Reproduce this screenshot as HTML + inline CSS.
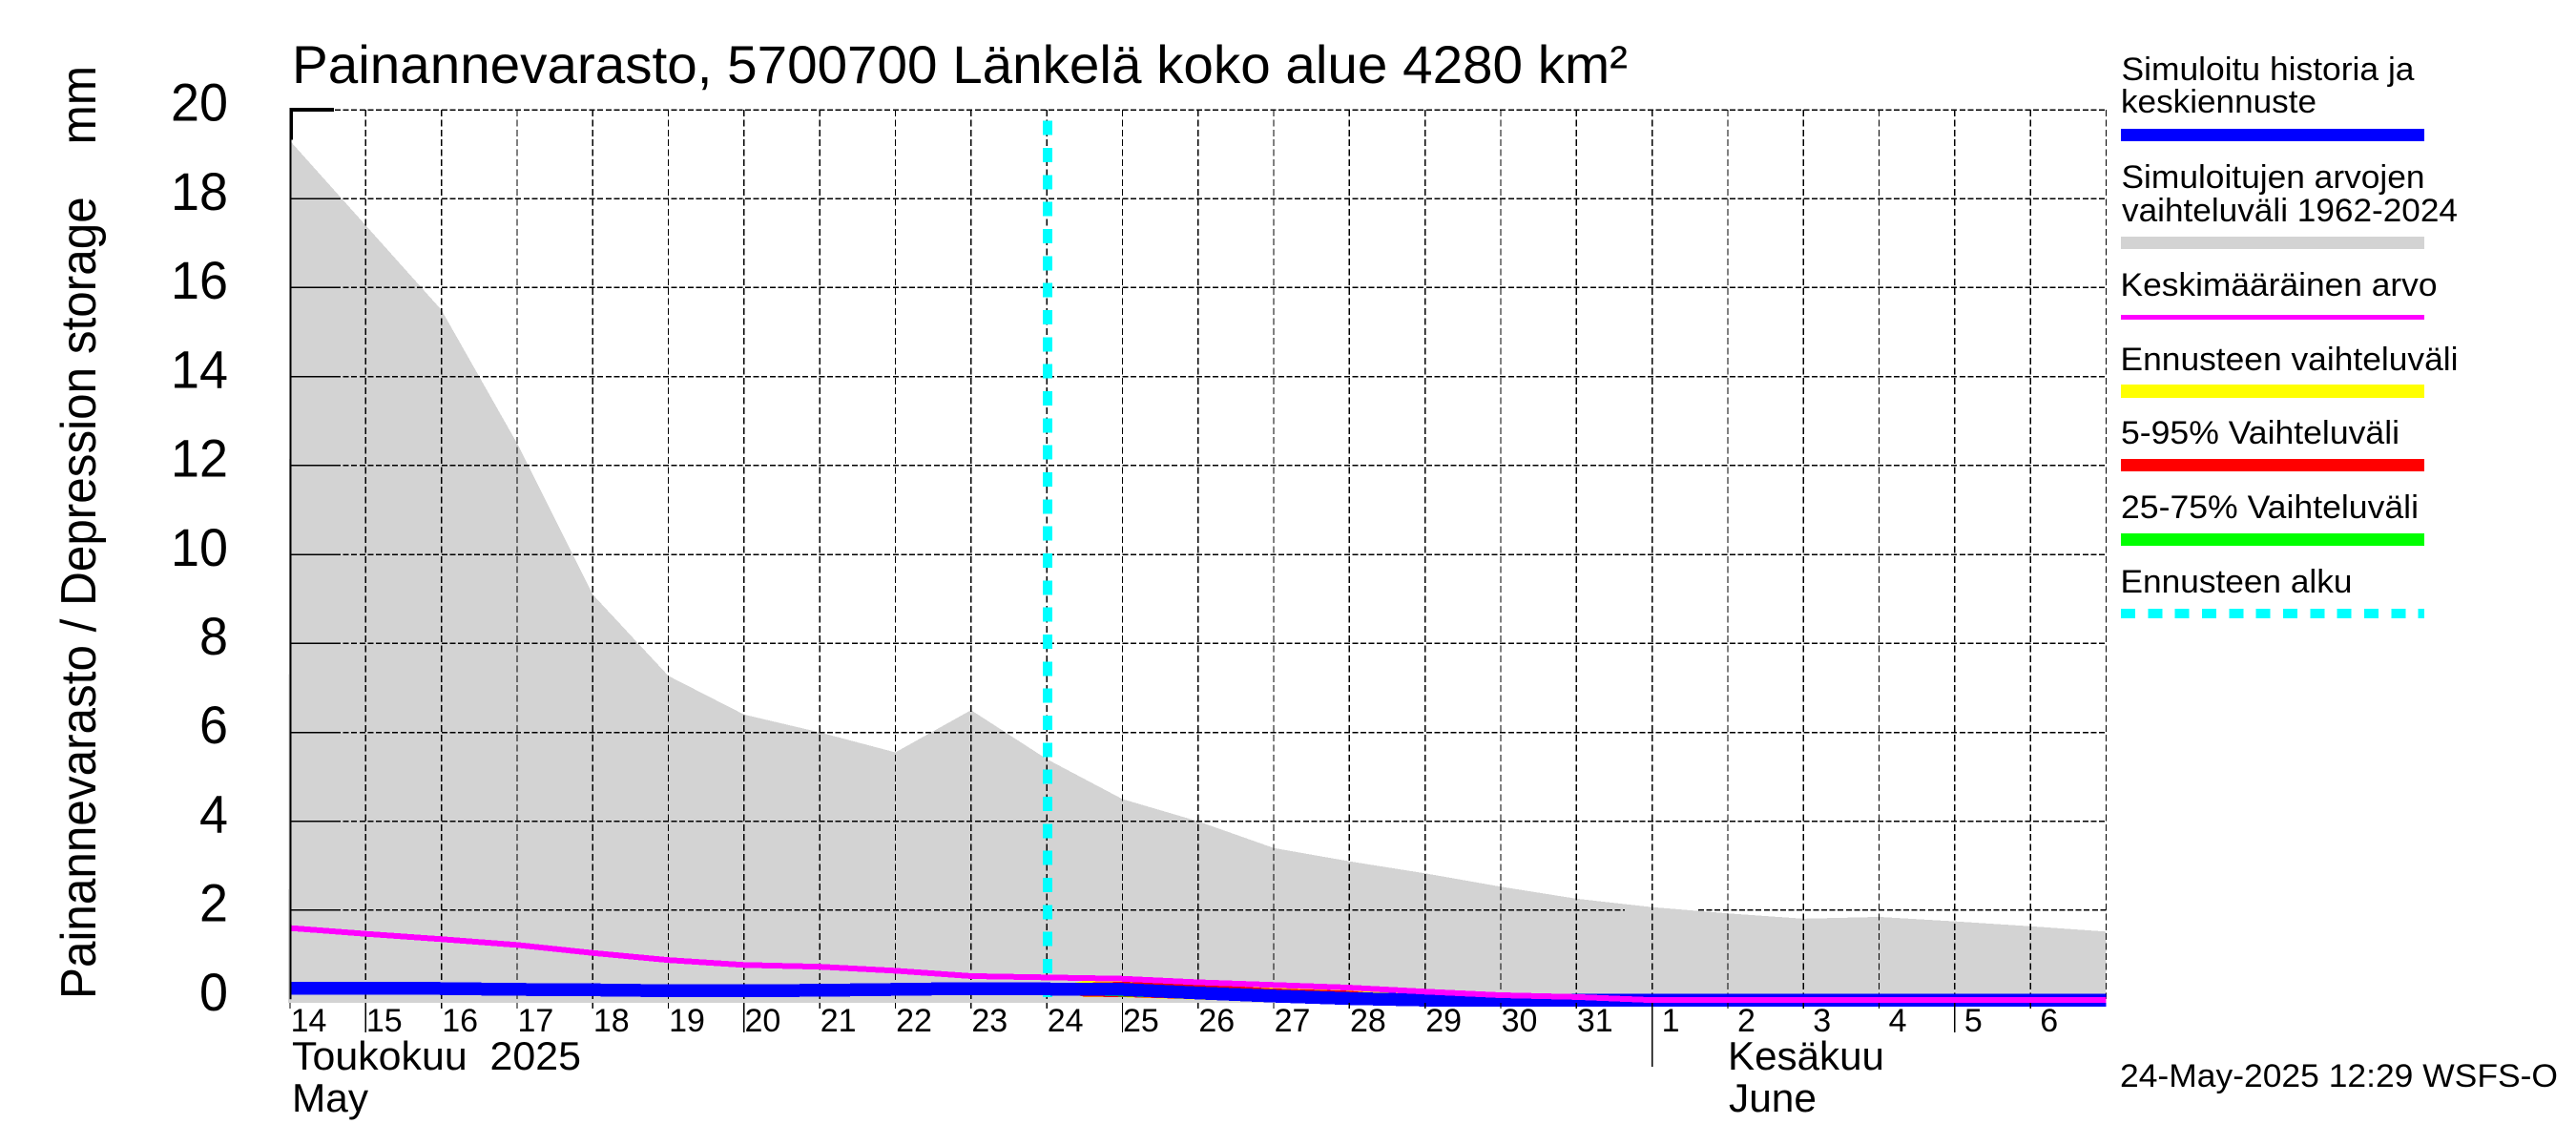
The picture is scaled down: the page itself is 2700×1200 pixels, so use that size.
<!DOCTYPE html>
<html lang="fi">
<head>
<meta charset="utf-8">
<title>Painannevarasto, 5700700 Länkelä koko alue 4280 km²</title>
<style>
html,body{margin:0;padding:0;background:#fff;}
svg{display:block;}
text{font-family:"Liberation Sans",Arial,sans-serif;fill:#000;white-space:pre;}
</style>
</head>
<body>
<svg id="chart" xmlns="http://www.w3.org/2000/svg" width="2700" height="1200" viewBox="0 0 2700 1200">
  <rect x="0" y="0" width="2700" height="1200" fill="#fff"/>
  <text x="306" y="87" font-size="56" textLength="1400" lengthAdjust="spacingAndGlyphs">Painannevarasto, 5700700 Länkelä koko alue 4280 km²</text>
  <text transform="translate(100,1047) rotate(-90)" font-size="52" textLength="978" lengthAdjust="spacingAndGlyphs">Painannevarasto / Depression storage    mm</text>
  <g id="plot"></g>
  <g id="yticks"></g>
  <g id="xticks"></g>
  <text x="306" y="1121" font-size="42" textLength="303" lengthAdjust="spacingAndGlyphs">Toukokuu  2025</text>
  <text x="306" y="1165" font-size="42" textLength="80" lengthAdjust="spacingAndGlyphs">May</text>
  <text x="1811" y="1121" font-size="42" textLength="164" lengthAdjust="spacingAndGlyphs">Kesäkuu</text>
  <text x="1812" y="1165" font-size="42" textLength="92" lengthAdjust="spacingAndGlyphs">June</text>
  <text x="2222" y="1139" font-size="34" textLength="459" lengthAdjust="spacingAndGlyphs">24-May-2025 12:29 WSFS-O</text>

  <g font-size="34">
    <text x="2223.5" y="84" textLength="307" lengthAdjust="spacingAndGlyphs">Simuloitu historia ja</text>
    <text x="2223" y="118" textLength="205" lengthAdjust="spacingAndGlyphs">keskiennuste</text>
    <rect x="2223" y="135" width="318" height="13" fill="#0000ff"/>
    <text x="2223.5" y="197" textLength="318" lengthAdjust="spacingAndGlyphs">Simuloitujen arvojen</text>
    <text x="2224" y="232" textLength="352" lengthAdjust="spacingAndGlyphs">vaihteluväli 1962-2024</text>
    <rect x="2223" y="248" width="318" height="13" fill="#d3d3d3"/>
    <text x="2222.5" y="310" textLength="332" lengthAdjust="spacingAndGlyphs">Keskimääräinen arvo</text>
    <rect x="2223" y="330" width="318" height="5" fill="#ff00ff"/>
    <text x="2222.5" y="388" textLength="354" lengthAdjust="spacingAndGlyphs">Ennusteen vaihteluväli</text>
    <rect x="2223" y="403" width="318" height="14" fill="#ffff00"/>
    <text x="2223" y="465" textLength="292" lengthAdjust="spacingAndGlyphs">5-95% Vaihteluväli</text>
    <rect x="2223" y="481" width="318" height="13" fill="#ff0000"/>
    <text x="2223" y="543" textLength="312" lengthAdjust="spacingAndGlyphs">25-75% Vaihteluväli</text>
    <rect x="2223" y="559" width="318" height="13" fill="#00ff00"/>
    <text x="2222.5" y="621" textLength="243" lengthAdjust="spacingAndGlyphs">Ennusteen alku</text>
    <line x1="2223" y1="643" x2="2541" y2="643" stroke="#00ffff" stroke-width="10" stroke-dasharray="15 13.33" shape-rendering="crispEdges"/>
  </g>
</svg>
<script>
// Chart data (values in mm)
const dayLabels = ['14','15','16','17','18','19','20','21','22','23','24','25','26','27','28','29','30','31','1','2','3','4','5','6'];
const longTickDays = ['15','20','25','5'];
const yTicks = [0,2,4,6,8,10,12,14,16,18,20];
const rangeHigh = [19.3,17.4,15.5,12.5,9.1,7.27,6.4,6.0,5.55,6.5,5.4,4.5,4.0,3.4,3.1,2.83,2.53,2.26,2.07,1.93,1.81,1.85,1.75,1.64,1.52];
const meanValues = [1.6,1.47,1.35,1.22,1.04,0.88,0.77,0.73,0.64,0.52,0.49,0.46,0.38,0.32,0.26,0.17,0.09,0.05,-0.02,-0.02,-0.02,-0.02,-0.02,-0.02,-0.02];
const simValues = [0.25,0.25,0.24,0.22,0.21,0.19,0.19,0.2,0.22,0.24,0.23,0.22,0.14,0.07,0.015,-0.02,-0.02,-0.02,-0.02,-0.02,-0.02,-0.02,-0.02,-0.02,-0.02];
const bandDays = [10,10.5,11,12,13,14,15,16];
const yellowHigh = [0.23,0.42,0.44,0.36,0.37,0.31,0.1,0];
const yellowLow = [0.23,0.05,0.045,-0.01,-0.06,-0.1,-0.1,-0.1];
const redHigh = [0.23,0.37,0.39,0.34,0.24,0.19,0.02,0];
const redLow = [0.23,0.055,0.05,0,-0.05,-0.1,-0.1,-0.1];
const greenHigh = [0.23,0.3,0.3,0.25,0.2,0.1,0,0];
const greenLow = [0.23,0.09,0.06,0.02,-0.05,-0.1,-0.1,-0.1];
const forecastStartDay = 10.01;
const dayCount = 24;
const yMaxValue = 20;

// Axis functions
function xScale(i){ return 304 + i * (2207.5 - 304) / dayCount; }
function yScale(v){ return 115 + (yMaxValue - v) * 46.61; }

const NS = 'http://www.w3.org/2000/svg';
const plot = document.getElementById('plot');
const yAxis = document.getElementById('yticks');
const xAxis = document.getElementById('xticks');
const H_DASH = '6 2.6';
const V_DASH = '7 3.4';

function svgEl(tag, parent, attrs){
  const el = document.createElementNS(NS, tag);
  for (const k in attrs) el.setAttribute(k, attrs[k]);
  parent.appendChild(el);
  return el;
}
function bandPoints(high, low){
  const pts = [];
  for (let i = 0; i < bandDays.length; i++) pts.push(xScale(bandDays[i]) + ',' + yScale(high[i]));
  for (let i = bandDays.length - 1; i >= 0; i--) pts.push(xScale(bandDays[i]) + ',' + yScale(low[i]));
  return pts.join(' ');
}
function linePoints(values){
  return values.map(function(v, i){ return xScale(i) + ',' + yScale(v); }).join(' ');
}

// Simulated range area
const plotBottom = 1051;
const greyPts = ['302,' + plotBottom].concat(rangeHigh.map(function(v, i){ return xScale(i) + ',' + yScale(v); }));
greyPts.push(xScale(dayCount) + ',' + plotBottom);
const rangeArea = svgEl('polygon', plot, {points: greyPts.join(' '), fill: '#d3d3d3', 'shape-rendering': 'crispEdges'});



// Horizontal gridlines
yTicks.forEach(function(v){
  if (v === 0) return;
  const y = yScale(v);
  if (v === 2) {
    const g1 = svgEl('line', plot, {x1: 351, y1: y, x2: 1703, y2: y, stroke: '#000', 'stroke-width': 1.5, 'stroke-dasharray': H_DASH, 'shape-rendering': 'crispEdges'});
    
    
    const g2 = svgEl('line', plot, {x1: 1780, y1: y, x2: xScale(dayCount), y2: y, stroke: '#000', 'stroke-width': 1.5, 'stroke-dasharray': H_DASH, 'shape-rendering': 'crispEdges'});
    
    
  } else {
    const g = svgEl('line', plot, {x1: 351, y1: y, x2: xScale(dayCount), y2: y, stroke: '#000', 'stroke-width': 1.5, 'stroke-dasharray': H_DASH, 'shape-rendering': 'crispEdges'});
    
    
  }
});

// Vertical gridlines (one per day plus the right edge)
for (let i = 1; i <= dayCount; i++) {
  const x = xScale(i);
  const vg = svgEl('line', plot, {x1: x, y1: yScale(yMaxValue), x2: x, y2: yScale(0), stroke: '#000', 'stroke-width': 1.3, 'stroke-dasharray': V_DASH, 'shape-rendering': 'crispEdges'});
  
  
}

// Forecast start marker
const fx = xScale(forecastStartDay);
const fLine = svgEl('line', plot, {x1: fx, y1: 126.7, x2: fx, y2: 1045, stroke: '#00ffff', 'stroke-width': 10, 'stroke-dasharray': '15 13.33', 'shape-rendering': 'crispEdges'});



// Forecast bands
const yellowBand = svgEl('polygon', plot, {points: bandPoints(yellowHigh, yellowLow), fill: '#ffff00', 'shape-rendering': 'crispEdges'});


const redBand = svgEl('polygon', plot, {points: bandPoints(redHigh, redLow), fill: '#ff0000', 'shape-rendering': 'crispEdges'});


const greenBand = svgEl('polygon', plot, {points: bandPoints(greenHigh, greenLow), fill: '#00ff00', 'shape-rendering': 'crispEdges'});



// Simulated history & median forecast
const simLine = svgEl('polyline', plot, {points: linePoints(simValues), fill: 'none', stroke: '#0000ff', 'stroke-width': 13.5, 'shape-rendering': 'crispEdges'});



// Mean line
const meanLine = svgEl('polyline', plot, {points: linePoints(meanValues), fill: 'none', stroke: '#ff00ff', 'stroke-width': 6, 'shape-rendering': 'crispEdges'});



// Left axis: thin line, heavy corner
const axisLine = svgEl('line', yAxis, {x1: 304.5, y1: yScale(yMaxValue), x2: 304.5, y2: yScale(0), stroke: '#000', 'stroke-width': 2});


const cornerV = svgEl('rect', yAxis, {x: 303.5, y: 113, width: 3.5, height: 33.5, fill: '#000'});


const cornerH = svgEl('rect', yAxis, {x: 303.5, y: 113, width: 46.5, height: 4, fill: '#000'});



// Y ticks and labels
yTicks.forEach(function(v){
  const y = yScale(v);
  if (v !== 0 && v !== yMaxValue) {
    const t = svgEl('line', yAxis, {x1: 304, y1: y, x2: 351, y2: y, stroke: '#000', 'stroke-width': 1.5, 'shape-rendering': 'crispEdges'});
    
    
  }
  const lab = svgEl('text', yAxis, {x: 239, y: y + 11.7, 'font-size': 56, 'text-anchor': 'end', textLength: v < 10 ? 30 : 60, lengthAdjust: 'spacingAndGlyphs'});
  lab.textContent = String(v);
  
  
});

// X ticks and labels
dayLabels.forEach(function(d, i){
  const x = xScale(i);
  const isMonthStart = d === '1';
  const isLong = longTickDays.indexOf(d) >= 0;
  const y2 = isMonthStart ? 1118 : (isLong ? 1082 : 1057);
  const t = svgEl('line', xAxis, {x1: x, y1: 1051, x2: x, y2: y2, stroke: '#000', 'stroke-width': 1.3, 'shape-rendering': 'crispEdges'});
  
  
  const lab = svgEl('text', xAxis, {x: x + 19.5, y: 1081, 'font-size': 34, 'text-anchor': 'middle'});
  lab.textContent = d;
  
  
});
</script>
</body>
</html>
